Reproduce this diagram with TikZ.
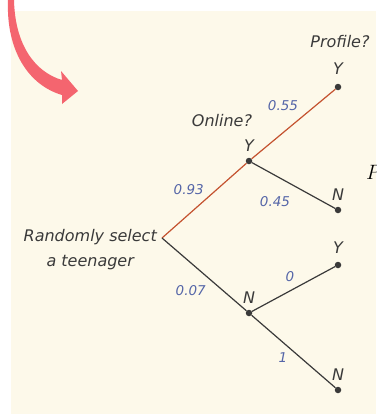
\documentclass[tikz,border=0pt]{standalone}
\usepackage{fontspec}
\setsansfont{DejaVu Sans}
\usepackage{xcolor}
\usetikzlibrary{calc, positioning}

\definecolor{nenkem}{HTML}{FDF9EA}
\definecolor{docam}{HTML}{C4522F}
\definecolor{xamden}{HTML}{3A3A3A}
\definecolor{xanhso}{HTML}{5566A8}
\definecolor{hongdo}{HTML}{F4656F}

\tikzset{
    cham/.style={circle, fill=xamden, inner sep=0pt, minimum size=6.5pt},
    nhanh/.style={xamden, line width=1.2pt},
    nhanhdo/.style={docam, line width=1.2pt},
    xacsuat/.style={text=xanhso, font=\sffamily\itshape\fontsize{13.5}{15}\selectfont},
    chu/.style={text=xamden, font=\sffamily\itshape\fontsize{16}{25}\selectfont, inner sep=1pt},
    nhan/.style={chu, label distance=5pt}
}

\begin{document}
\begin{tikzpicture}[x=1pt, y=-1pt]
    % Khung nen
    \useasboundingbox (0,0) rectangle (376,415);
    \fill[white] (0,0) rectangle (376,415);
    \fill[nenkem] (11,11) rectangle (376,414);

    % Mui ten cong
    \fill[hongdo] (8,0) .. controls (6,50) and (28,85) .. (62,95) -- (62,104) -- (78,91)
        -- (61,71) -- (62,80) .. controls (35,72) and (15,45) .. (14,0) -- cycle;

    % Cac diem cua cay
    \coordinate (goc) at (162,238);
    \node[cham, label={[nhan]above:Y}] (onY) at (249,161) {};
    \node[cham, label={[nhan]above:N}] (onN) at (249,313) {};
    \node[cham, label={[nhan, label distance=8pt]above:Y}] (ppY) at (338,87) {};
    \node[cham, label={[nhan]above:N}] (ppN) at (338,210) {};
    \node[cham, label={[nhan, label distance=7pt]above:Y}] (nnY) at (338,265) {};
    \node[cham, label={[nhan]above:N}] (nnN) at (338,390) {};

    % Chu thich
    \node[chu, align=center, left=4pt of goc, yshift=-12pt] (chon) {Randomly select\\a teenager};
    \node[chu] (online) at (222,121) {Online?};
    \node[chu] (profile) at (340,42) {Profile?};
    \node[anchor=west, inner sep=0pt, font=\itshape\fontsize{21}{24}\selectfont] (cat) at (366,172) {$P$};

    % Cac nhanh
    \draw[nhanhdo] (goc) -- (onY) node[xacsuat, midway, shift={(-15.5,-11.5)}] {0.93};
    \draw[nhanh] (goc) -- (onN) node[xacsuat, midway, shift={(-13.5,16.5)}] {0.07};
    \draw[nhanhdo] (onY) -- (ppY) node[xacsuat, midway, shift={(-10.5,-18)}] {0.55};
    \draw[nhanh] (onY) -- (ppN) node[xacsuat, midway, shift={(-18.5,16.5)}] {0.45};
    \draw[nhanh] (onN) -- (nnY) node[xacsuat, midway, shift={(-3.5,-12)}] {0};
    \draw[nhanh] (onN) -- (nnN) node[xacsuat, midway, shift={(-10.5,6.5)}] {1};
\end{tikzpicture}
\end{document}
